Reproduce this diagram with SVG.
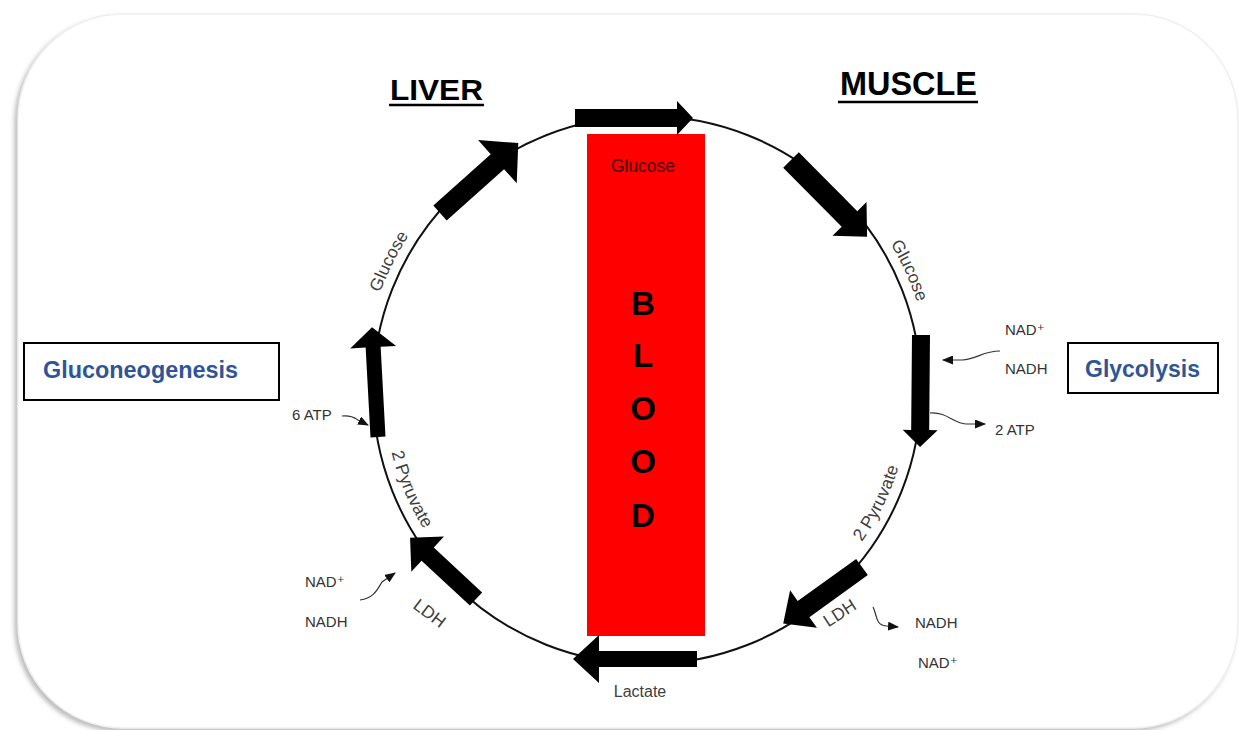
<svg xmlns="http://www.w3.org/2000/svg" xmlns:xlink="http://www.w3.org/1999/xlink" width="1239" height="730" viewBox="0 0 1239 730">
<style>
text { font-family: "Liberation Sans", "DejaVu Sans", sans-serif; }
.title { font-weight: bold; font-size: 30px; fill: #000; }
.lbl { font-size: 17.5px; fill: #404040; }
.sm { font-size: 15px; fill: #333; }
.proc { font-weight: bold; font-size: 23px; fill: #2F5597; }
.blood { font-weight: bold; font-size: 33px; fill: #000; text-anchor: middle; }
.arrow { fill: #000; }
.thin { fill: none; stroke: #333; stroke-width: 1.2; marker-end: url(#tip); }
.box { fill: #fff; stroke: #000; stroke-width: 2; }
</style>
<defs>
<filter id="sh" x="-5%" y="-5%" width="110%" height="110%">
<feDropShadow dx="-3" dy="3" stdDeviation="2" flood-color="#888" flood-opacity="0.55"/>
</filter>
<marker id="tip" markerUnits="userSpaceOnUse" markerWidth="11" markerHeight="9" refX="10" refY="4.5" orient="auto">
<path d="M0,0 L11,4.5 L0,9 Z" fill="#111"/>
</marker>
<path id="pGluR" d="M847.8,189.2 A284,284 0 0 1 930.3,370.2"/>
<path id="pGluL" d="M364.6,360.3 A284,284 0 0 1 453.3,182.3"/>
<path id="pPyrR" d="M816.1,591.5 A263,263 0 0 0 909.8,401.0"/>
<path id="pPyrL" d="M384.0,385.4 A263,263 0 0 0 466.3,581.1"/>
</defs>

<rect x="18" y="14" width="1220" height="714" rx="105" ry="105" fill="#fff" stroke="#efefef" stroke-width="1.5" filter="url(#sh)"/>

<g id="cycle">
<circle cx="647" cy="390" r="274" fill="none" stroke="#111" stroke-width="2"/>
</g>

<g id="blood">
<rect x="587" y="134" width="118" height="502" fill="#ff0000"/>
<text x="643" y="172" text-anchor="middle" class="lbl" style="fill:#4a0000">Glucose</text>
<text x="643" y="315" class="blood">B</text>
<text x="643" y="367" class="blood">L</text>
<text x="643" y="420" class="blood">O</text>
<text x="643" y="473" class="blood">O</text>
<text x="643" y="527" class="blood">D</text>
</g>

<g id="connectors">
<path class="arrow" transform="translate(575,118)" d="M0,-9 H102 V-17 L118,0 L102,17 V9 H0 Z"/>
<path class="arrow" transform="translate(791,160) rotate(45.2)" d="M0,-11 H83 V-24 L108,0 L83,24 V11 H0 Z"/>
<path class="arrow" transform="translate(921,335) rotate(90.5)" d="M0,-9 H95 V-17.5 L112,0 L95,17.5 V9 H0 Z"/>
<path class="arrow" transform="translate(862,567) rotate(144.3)" d="M0,-10 H72 V-23 L97,0 L72,23 V10 H0 Z"/>
<path class="arrow" transform="translate(697,659) rotate(180)" d="M0,-8 H98 V-24 L124,0 L98,24 V8 H0 Z"/>
<path class="arrow" transform="translate(476,599) rotate(-137.1)" d="M0,-9 H66 V-24 L90,0 L66,24 V9 H0 Z"/>
<path class="arrow" transform="translate(378,437) rotate(-93.1)" d="M0,-7.5 H90 V-23 L110,0 L90,23 V7.5 H0 Z"/>
<path class="arrow" transform="translate(440,213) rotate(-41.8)" d="M0,-10 H77 V-29 L105,0 L77,29 V10 H0 Z"/>
<path class="thin" d="M1000,351 C982,351 978,359 962,360 L943,360"/>
<path class="thin" d="M930,413 C948,412 952,423 966,424 L985,424"/>
<path class="thin" d="M873,607 C877,614 875,625 886,626 L898,627"/>
<path class="thin" d="M342,416 C352,415 355,418 358,420 L368,425"/>
<path class="thin" d="M360,600 C374,598 377,590 382,582 L395,573"/>
</g>

<g id="liver">
<text x="390" y="100" class="title" textLength="93" lengthAdjust="spacingAndGlyphs">LIVER</text>
<line x1="389" y1="105" x2="484" y2="105" stroke="#000" stroke-width="2.5"/>
</g>
<g id="muscle">
<text x="840" y="95" class="title" style="font-size:34px" textLength="137" lengthAdjust="spacingAndGlyphs">MUSCLE</text>
<line x1="838" y1="102" x2="978" y2="102" stroke="#000" stroke-width="2.5"/>
</g>

<g id="gluconeogenesis">
<rect x="24" y="343" width="255" height="57" class="box"/>
<text x="43" y="378" class="proc" textLength="195" lengthAdjust="spacingAndGlyphs">Gluconeogenesis</text>
</g>
<g id="glycolysis">
<rect x="1068" y="343" width="150" height="50" class="box"/>
<text x="1085" y="377" class="proc" textLength="115" lengthAdjust="spacingAndGlyphs">Glycolysis</text>
</g>

<g id="labels">
<text class="lbl"><textPath xlink:href="#pGluR" href="#pGluR" startOffset="50%" text-anchor="middle">Glucose</textPath></text>
<text class="lbl"><textPath xlink:href="#pGluL" href="#pGluL" startOffset="50%" text-anchor="middle">Glucose</textPath></text>
<text class="lbl"><textPath xlink:href="#pPyrR" href="#pPyrR" startOffset="50%" text-anchor="middle">2 Pyruvate</textPath></text>
<text class="lbl"><textPath xlink:href="#pPyrL" href="#pPyrL" startOffset="50%" text-anchor="middle">2 Pyruvate</textPath></text>
<text class="lbl" text-anchor="middle" transform="translate(843,618) rotate(-33)">LDH</text>
<text class="lbl" text-anchor="middle" transform="translate(426,618) rotate(37)">LDH</text>
<text class="lbl" x="640" y="697" text-anchor="middle" style="font-size:16px">Lactate</text>
<text class="sm" x="1005" y="335">NAD⁺</text>
<text class="sm" x="1005" y="374">NADH</text>
<text class="sm" x="995" y="435">2 ATP</text>
<text class="sm" x="915" y="628">NADH</text>
<text class="sm" x="918" y="668">NAD⁺</text>
<text class="sm" x="292" y="420">6 ATP</text>
<text class="sm" x="305" y="587">NAD⁺</text>
<text class="sm" x="305" y="627">NADH</text>
</g>
</svg>
